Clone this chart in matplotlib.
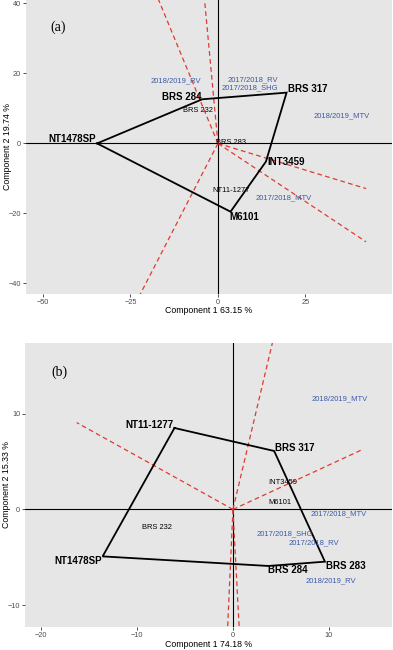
import matplotlib
matplotlib.use("Agg")
import matplotlib.pyplot as plt

plt.rcParams['font.family'] = ['Liberation Sans', 'DejaVu Sans']

# ---- panel (a) data ----
geno_a = ["NT1478SP", "BRS 284", "BRS 317", "INT3459", "M6101", "BRS 232", "BRS 283", "NT11-1277"]
gx_a = [-34.5, -4.5, 19.6, 13.7, 3.6, -5.8, 3.6, 3.9]
gy_a = [0.0, 12.6, 14.5, -5.2, -19.5, 9.5, 0.2, -13.5]
hull_a = ["NT1478SP", "BRS 284", "BRS 317", "INT3459", "M6101", "NT1478SP"]
env_a = ["2018/2019_RV", "2017/2018_RV", "2017/2018_SHG", "2018/2019_MTV", "2017/2018_MTV"]
ex_a = [-12.1, 9.9, 9.2, 35.3, 18.8]
ey_a = [17.8, 18.1, 15.8, 7.8, -15.5]
ray_x_a = [-18.6, -4.2, -23.7, 42.3, 42.3]
ray_y_a = [45.0, 45.0, -46.0, -12.9, -28.1]

# ---- panel (b) data ----
geno_b = ["NT11-1277", "BRS 317", "BRS 283", "BRS 284", "NT1478SP", "INT3459", "M6101", "BRS 232"]
gx_b = [-6.1, 4.3, 9.6, 3.7, -13.6, 5.2, 4.9, -7.9]
gy_b = [8.5, 6.1, -5.45, -5.9, -4.9, 2.8, 0.75, -1.9]
hull_b = ["NT11-1277", "BRS 317", "BRS 283", "BRS 284", "NT1478SP", "NT11-1277"]
env_b = ["2018/2019_MTV", "2017/2018_MTV", "2017/2018_SHG", "2017/2018_RV", "2018/2019_RV"]
ex_b = [11.1, 11.0, 5.4, 8.5, 10.2]
ey_b = [11.5, -0.4, -2.5, -3.5, -7.4]
ray_x_b = [-16.3, 4.5, 13.4, -0.63, 0.74]
ray_y_b = [9.06, 19.0, 6.2, -14.0, -14.0]

# label offsets (points) for the polygon-vertex genotypes
off_a = {"NT1478SP": (-0.5, 3, "right"), "BRS 284": (-0.5, 1.8, "right"),
         "BRS 317": (0.8, 2.5, "left"), "INT3459": (0.8, 0, "left"),
         "M6101": (-0.5, -3.8, "left")}
off_b = {"NT11-1277": (-0.5, 2.3, "right"), "BRS 317": (0.8, 2.5, "left"),
         "BRS 283": (0.8, -3.2, "left"), "BRS 284": (0.0, -2.6, "left"),
         "NT1478SP": (-0.7, -3.2, "right")}

RED = "#E03A30"
BLUE = "#3A5BA8"
BG = "#E6E6E6"


def draw(ax, geno, gx, gy, hull, env, ex, ey, rx, ry, offs):
    ax.set_facecolor(BG)
    for s in ax.spines.values():
        s.set_visible(False)
    ax.axhline(0, color="black", lw=0.8, zorder=1)
    ax.axvline(0, color="black", lw=0.8, zorder=1)
    for x, y in zip(rx, ry):
        ax.plot([0, x], [0, y], color=RED, lw=0.9, dashes=(3.8, 2.6), zorder=2)
    pos = {g: (x, y) for g, x, y in zip(geno, gx, gy)}
    ax.plot([pos[g][0] for g in hull], [pos[g][1] for g in hull],
            color="black", lw=1.3, zorder=3, solid_joinstyle="miter")
    for g, x, y in zip(geno, gx, gy):
        if g in offs:
            dx, dy, ha = offs[g]
            ax.annotate(g, (x, y), xytext=(dx, dy), textcoords="offset points",
                        ha=ha, va="center", fontsize=7, fontweight="bold", zorder=4)
        else:
            ax.text(x, y, g, ha="center", va="center", fontsize=5.4, zorder=4)
    for e, x, y in zip(env, ex, ey):
        ax.text(x, y, e, ha="center", va="center", fontsize=5.5, color=BLUE, zorder=4)
    ax.tick_params(length=2.2, width=0.6, color="#333333", labelsize=5.3,
                   labelcolor="#4D4D4D", pad=1.2)


fig = plt.figure(figsize=(3.93, 6.5), dpi=100)

ax_a = fig.add_axes([26 / 393, (650 - 294) / 650, 366 / 393, 294 / 650])
draw(ax_a, geno_a, gx_a, gy_a, hull_a, env_a, ex_a, ey_a, ray_x_a, ray_y_a, off_a)
ax_a.set_xlim(-54.8, 49.7)
ax_a.set_ylim(-43.0, 40.95)
ax_a.set_xticks([-50, -25, 0, 25])
ax_a.set_yticks([-40, -20, 0, 20, 40])
ax_a.text(-45.6, 33.3, "(a)", family="Liberation Serif", fontsize=10, ha="center", va="center")
ax_a.text(0.5, -0.057, "Component 1 63.15 %", transform=ax_a.transAxes,
          ha="center", va="center", fontsize=6.3)
ax_a.text(-0.05, 0.5, "Component 2 19.74 %", transform=ax_a.transAxes,
          ha="center", va="center", rotation=90, fontsize=6.3)

ax_b = fig.add_axes([25 / 393, (650 - 627.3) / 650, 367 / 393, (627.3 - 342.7) / 650])
draw(ax_b, geno_b, gx_b, gy_b, hull_b, env_b, ex_b, ey_b, ray_x_b, ray_y_b, off_b)
ax_b.set_xlim(-21.7, 16.6)
ax_b.set_ylim(-12.3, 17.4)
ax_b.set_xticks([-20, -10, 0, 10])
ax_b.set_yticks([-10, 0, 10])
ax_b.text(-18.1, 14.3, "(b)", family="Liberation Serif", fontsize=10, ha="center", va="center")
ax_b.text(0.5, -0.059, "Component 1 74.18 %", transform=ax_b.transAxes,
          ha="center", va="center", fontsize=6.3)
ax_b.text(-0.05, 0.5, "Component 2 15.33 %", transform=ax_b.transAxes,
          ha="center", va="center", rotation=90, fontsize=6.3)

fig.savefig("out.png", dpi=100)
